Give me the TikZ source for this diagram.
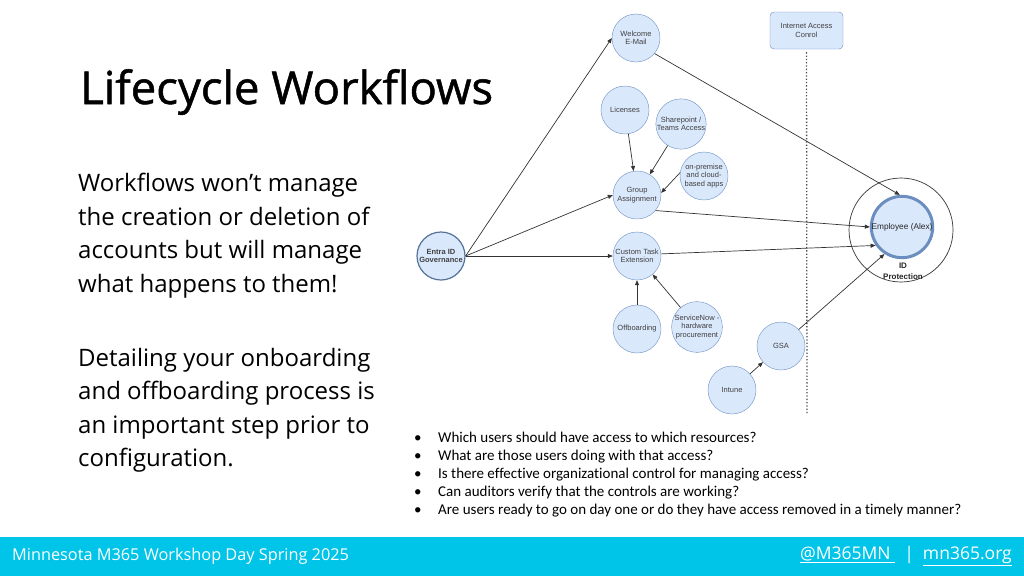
\documentclass[tikz,border=0pt]{standalone}
\usepackage{fontspec}
\setmainfont{Open Sans}
\newfontfamily\titlefont[FakeBold=1.1]{Open Sans}
\newfontfamily\diagfont{Liberation Sans}
\newfontfamily\listfont[Ligatures=CommonOff]{Carlito}
\usetikzlibrary{arrows.meta}

\definecolor{nodefill}{HTML}{DAE8FC}
\definecolor{nodeline}{HTML}{6C8EBF}
\definecolor{barcyan}{HTML}{00C4E8}

\tikzset{
  stepnode/.style={circle, draw=nodeline, fill=nodefill, minimum size=48pt, inner sep=0pt,
    align=center, text=black!75, font=\diagfont\fontsize{7.5}{8.6}\selectfont},
  flow/.style={-{Triangle[length=5pt,width=4pt]}, draw=black!80, line width=0.7pt},
}

\begin{document}
\begin{tikzpicture}[x=1pt,y=-1pt]
    \useasboundingbox (0,0) rectangle (1024,576);

    %title and text
    \node[anchor=base west, inner sep=0pt, font=\titlefont\fontsize{45.5}{50}\selectfont] (title) at (80,104) {Lifecycle Workflows};
    \node[anchor=north west, inner sep=0pt, align=left, font=\fontsize{24}{33.5}\selectfont] (intro) at (78,173)
      {Workflows won't manage\\the creation or deletion of\\accounts but will manage\\what happens to them!};
    \node[anchor=north west, inner sep=0pt, align=left, font=\fontsize{24}{33.5}\selectfont] (detail) at (78,348)
      {Detailing your onboarding\\and offboarding process is\\an important step prior to\\configuration.};

    %questions
    \node[anchor=north west, inner sep=0pt, align=left, font=\listfont\fontsize{15}{18}\selectfont] (questions) at (414,432)
      {\makebox[24pt][l]{\textbullet}Which users should have access to which resources?\\
       \makebox[24pt][l]{\textbullet}What are those users doing with that access?\\
       \makebox[24pt][l]{\textbullet}Is there effective organizational control for managing access?\\
       \makebox[24pt][l]{\textbullet}Can auditors verify that the controls are working?\\
       \makebox[24pt][l]{\textbullet}Are users ready to go on day one or do they have access removed in a timely manner?};

    %footer
    \fill[barcyan] (0,537) rectangle (1024,576);
    \node[anchor=west, text=white, font=\fontsize{16.3}{18}\selectfont, inner sep=0pt] (event) at (12,556) {Minnesota M365 Workshop Day Spring 2025};
    \node[anchor=east, text=white, font=\fontsize{17.5}{19}\selectfont, inner sep=0pt] (links) at (1012,556) {\underline{@M365MN\ }\ \ |\ \ \underline{mn365.org}};

    %internet access control
    \node[draw=nodeline, fill=nodefill, rounded corners=4pt, minimum width=73pt, minimum height=37pt, align=center,
      text=black!75, font=\diagfont\fontsize{7.5}{8.6}\selectfont] (iac) at (806.5,30.5) {Internet Access\\Conrol};
    \coordinate (fenceend) at (807,413);
    \draw[dotted, line width=1.3pt, black!70] ([yshift=-3pt]iac.south) -- (fenceend);

    %nodes
    \node[stepnode, draw=nodeline!80!black, line width=1.2pt, font=\diagfont\bfseries\fontsize{7.5}{8.6}\selectfont] (entra) at (441,256) {Entra ID\\Governance};
    \node[stepnode] (welcome) at (636,38) {Welcome\\E-Mail};
    \node[stepnode] (licenses) at (625,110) {Licenses};
    \node[stepnode] (sharepoint) at (681,124) {Sharepoint /\\Teams Access};
    \node[stepnode] (onprem) at (704,176) {on-premise\\and cloud-\\based apps};
    \node[stepnode] (group) at (637,195) {Group\\Assignment};
    \node[stepnode] (custom) at (637,256) {Custom Task\\Extension};
    \node[stepnode] (offboard) at (637,329) {Offboarding};
    \node[stepnode] (snow) at (697,327) {ServiceNow -\\hardware\\procurement};
    \node[stepnode] (gsa) at (781,346) {GSA};
    \node[stepnode] (intune) at (732,390) {Intune};

    %employee with id protection
    \node[circle, draw=black!80, line width=0.7pt, minimum size=104pt] (idp) at (901,230) {};
    \node[stepnode, line width=3pt, minimum size=57pt, font=\diagfont\fontsize{8.3}{9}\selectfont, text=black!85] (emp) at (902,227) {Employee (Alex)};
    \node[align=center, inner sep=0pt, font=\diagfont\bfseries\fontsize{8}{11}\selectfont, text=black!85] (idlabel) at (903,271.5) {ID\\Protection};

    %arrows
    \draw[flow] (entra.east) -- (welcome.west);
    \draw[flow] (entra.east) -- (group.west);
    \draw[flow] (entra.east) -- (custom.west);
    \draw[flow] (licenses) -- (group);
    \draw[flow] (sharepoint) -- (group);
    \draw[flow] (onprem.172) -- (group.5);
    \draw[flow] (welcome.-40) -- (emp.94);
    \draw[flow] (group.-40) -- (emp.west);
    \draw[flow] (custom.5) -- (emp.215);
    \draw[flow] (offboard) -- (custom);
    \draw[flow] (snow) -- (custom);
    \draw[flow] (gsa.43) -- (emp.237);
    \draw[flow] (intune) -- (gsa);
\end{tikzpicture}
\end{document}
